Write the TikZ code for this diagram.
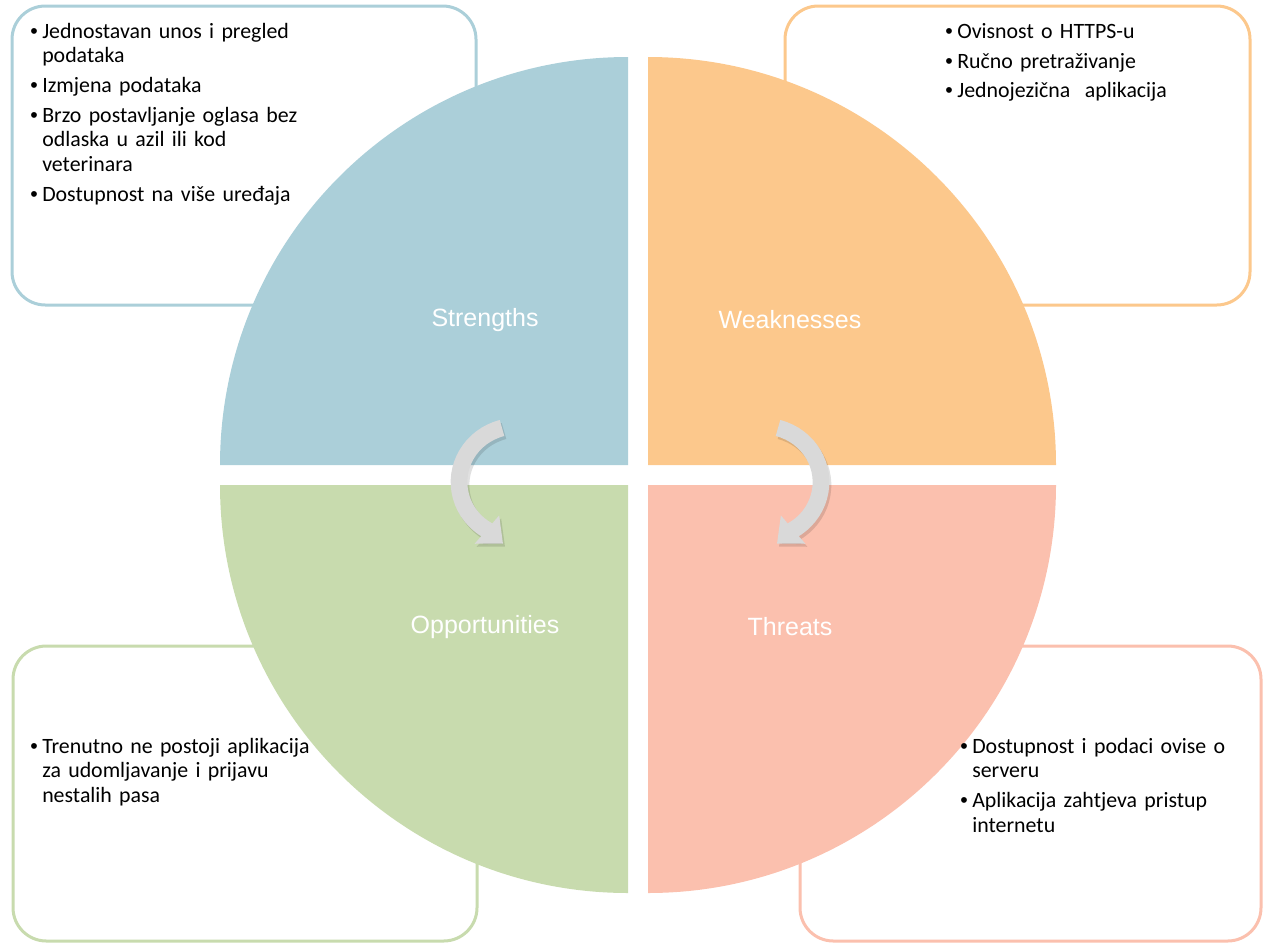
\documentclass[tikz,border=0pt]{standalone}
\usepackage{fontspec}
\setmainfont{Carlito}
\newfontfamily\swotlabelfont{Liberation Sans}
\usetikzlibrary{arrows.meta}

\definecolor{swotblue}{HTML}{ABCFD9}
\definecolor{swotorange}{HTML}{FCC88C}
\definecolor{swotgreen}{HTML}{C8DBAE}
\definecolor{swotsalmon}{HTML}{FBC0AE}
\definecolor{arrowgray}{HTML}{D9D9D9}

\newcommand{\bulletitem}[1]{\par\hangindent=9pt\hangafter=1\noindent
  \makebox[9pt][l]{\swotlabelfont\fontsize{16}{16}\selectfont\textbullet}\rule{0pt}{13pt}#1}

\begin{document}
\begin{tikzpicture} [x=0.75pt, y=-0.75pt,
  infobox/.style={draw=#1, line width=2.25pt, rounded corners=25pt, fill=white},
  quadlabel/.style={text=white, font=\swotlabelfont\fontsize{18.75}{22}\selectfont},
  itemlist/.style={anchor=north west, inner sep=0pt, text width=240pt, align=left,
    font=\fontsize{16.4}{18.4}\selectfont},
  turnarrow/.style={draw=arrowgray, line width=12.5pt, -{Triangle[length=16pt,width=27pt]}},
  turnshadow/.style={draw=black, opacity=0.12, line width=12.5pt, -{Triangle[length=16pt,width=27pt]}}]
\useasboundingbox (0,0) rectangle (1263,943);

% boxes behind the circle
\draw[infobox=swotblue] (12,6) rectangle (476,305);
\draw[infobox=swotorange] (785,6) rectangle (1250,305);
\draw[infobox=swotgreen] (13,646) rectangle (477,941);
\draw[infobox=swotsalmon] (800,646) rectangle (1261,941);

% quarters
\fill[swotblue] (628,465) -- ++(-408,0) arc[start angle=180, end angle=270, radius=408] -- cycle;
\fill[swotorange] (648,465) -- ++(0,-408) arc[start angle=270, end angle=360, radius=408] -- cycle;
\fill[swotgreen] (628,485) -- ++(-408,0) arc[start angle=180, end angle=90, radius=408] -- cycle;
\fill[swotsalmon] (648,485) -- ++(408,0) arc[start angle=0, end angle=90, radius=408] -- cycle;

\path (485,320) node[quadlabel] (strengths) {Strengths}
      (790,320) node[quadlabel] (weaknesses) {Weaknesses}
      (485,627) node[quadlabel] (opportunities) {Opportunities}
      (790,627) node[quadlabel] (threats) {Threats}

      (30,8) node[itemlist] (s-list) {\setlength{\parskip}{4pt}%
        \bulletitem{Jednostavan unos i pregled\newline podataka}
        \bulletitem{Izmjena podataka}
        \bulletitem{Brzo postavljanje oglasa bez\newline odlaska u azil ili kod\newline veterinara}
        \bulletitem{Dostupnost na više uređaja}\par}
      (945,8) node[itemlist] (w-list) {\setlength{\parskip}{4pt}%
        \bulletitem{Ovisnost o HTTPS-u}
        \bulletitem{Ručno pretraživanje}
        \bulletitem{Jednojezična\ \ aplikacija}\par}
      (30,723) node[itemlist] (o-list) {\setlength{\parskip}{4pt}%
        \bulletitem{Trenutno ne postoji aplikacija\newline za udomljavanje i prijavu\newline nestalih pasa}\par}
      (960,723) node[itemlist] (t-list) {\setlength{\parskip}{4pt}%
        \bulletitem{Dostupnost i podaci ovise o\newline serveru}
        \bulletitem{Aplikacija zahtjeva pristup\newline internetu}\par};

% turning arrows
\coordinate (s-turn) at (502,428);
\coordinate (w-turn) at (778,428);
\draw[turnshadow] ([shift={(2,3)}]s-turn) arc[start angle=255, end angle=120, x radius=58, y radius=56] -- ++(15,13);
\draw[turnshadow] ([shift={(2,3)}]w-turn) arc[start angle=285, end angle=420, x radius=58, y radius=56] -- ++(-15,13);
\draw[turnarrow] (s-turn) arc[start angle=255, end angle=120, x radius=58, y radius=56] -- ++(15,13);
\draw[turnarrow] (w-turn) arc[start angle=285, end angle=420, x radius=58, y radius=56] -- ++(-15,13);

\end{tikzpicture}
\end{document}
